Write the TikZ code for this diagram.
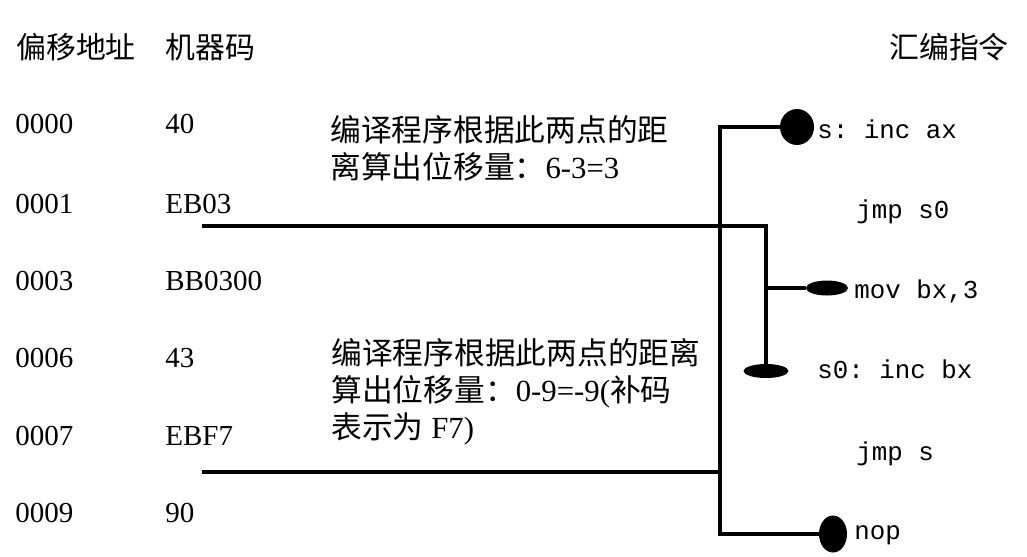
\documentclass[tikz,border=0pt]{standalone}
\usepackage{fontspec}
\setmainfont{Liberation Serif}
\setmonofont{Liberation Mono}
\newfontfamily\cjk{Noto Sans CJK SC}
\usepackage{tikz}
\usetikzlibrary{shapes.geometric, positioning}

\begin{document}
\begin{tikzpicture}[x=0.02cm, y=-0.02cm,
    txt/.style={anchor=base west, inner sep=0pt, font=\fontsize{16.5}{20}\selectfont},
    head/.style={anchor=west, inner sep=0pt, font=\cjk\fontsize{17}{20}\selectfont},
    note/.style={anchor=west, inner sep=0pt, align=left,
                font=\fontsize{17.5}{21}\selectfont},
    asm/.style={anchor=base west, inner sep=0pt, font=\ttfamily\fontsize{14.7}{18}\selectfont},
    blob/.style={ellipse, fill=black, inner sep=0pt},
    wire/.style={line width=2pt, draw=black}
]
\useasboundingbox (0,0) rectangle (1027,556);

%% ---- HEADER ROW ----
\node [head] (hoff)  at (16, 47)  {偏移地址};
\node [head] (hcode) at (165, 47) {机器码};
\node [head] (hasm)  at (889, 47) {汇编指令};

%% ---- OFFSET / MACHINE CODE COLUMNS ----
\node [txt] (o0) at (15, 133) {0000};  \node [txt] (m0) at (165, 133) {40};
\node [txt] (o1) at (15, 213) {0001};  \node [txt] (m1) at (165, 213) {EB03};
\node [txt] (o3) at (15, 290) {0003};  \node [txt] (m3) at (165, 290) {BB0300};
\node [txt] (o6) at (15, 367) {0006};  \node [txt] (m6) at (165, 367) {43};
\node [txt] (o7) at (15, 445) {0007};  \node [txt] (m7) at (165, 445) {EBF7};
\node [txt] (o9) at (15, 522) {0009};  \node [txt] (m9) at (165, 522) {90};

%% ---- NOTES ----
\node [note] (note1) at (330, 148)
    {{\cjk 编译程序根据此两点的距}\\{\cjk 离算出位移量：}6-3=3};
\node [note] (note2) at (331, 392)
    {{\cjk 编译程序根据此两点的距离}\\{\cjk 算出位移量：}0-9=-9({\cjk 补码}\\{\cjk 表示为} F7)};

%% ---- ASSEMBLY COLUMN ----
\node [asm] (a0) at (817, 138) {s: inc ax};
\node [asm] (a1) at (856, 218) {jmp s0};
\node [asm] (a3) at (854, 298) {mov bx,3};
\node [asm] (a6) at (817, 378) {s0: inc bx};
\node [asm] (a7) at (856, 460) {jmp s};
\node [asm] (a9) at (854, 539) {nop};

%% ---- TARGET BLOBS ----
\node [blob, minimum width=34*0.02cm, minimum height=36*0.02cm] (sdot)   at (797, 127) {};
\node [blob, minimum width=42*0.02cm, minimum height=15*0.02cm] (movdot) at (827, 288) {};
\node [blob, minimum width=45*0.02cm, minimum height=14*0.02cm] (s0dot)  at (766, 371) {};
\node [blob, minimum width=28*0.02cm, minimum height=37*0.02cm] (nopdot) at (833, 534) {};

%% ---- FORWARD JUMP (EB03 -> s0) ----
\coordinate (fwd)  at (202, 226);
\coordinate (fbr)  at (767, 288);
\draw [wire] (fwd) -| (s0dot.center);
\draw [wire] (fbr) -- (movdot.west);

%% ---- BACKWARD JUMP (EBF7 -> s) ----
\coordinate (bwd)  at (202, 472);
\coordinate (btop) at (720, 127);
\coordinate (bbot) at (720, 534);
\draw [wire] (bwd) -- (bwd -| btop);
\draw [wire] (sdot.center) -- (btop) -- (bbot) -- (nopdot.center);

\end{tikzpicture}
\end{document}
